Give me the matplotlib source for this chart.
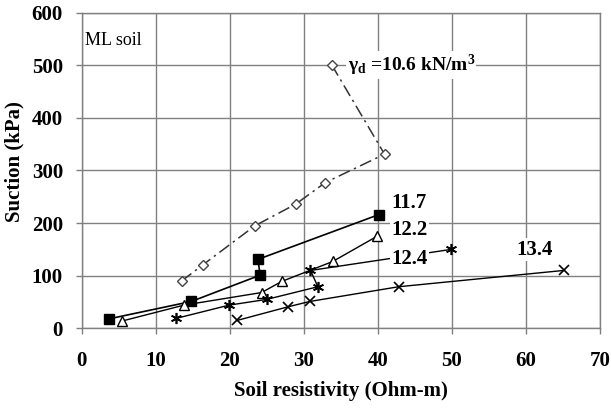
import matplotlib
matplotlib.use("Agg")
import matplotlib.pyplot as plt

plt.rcParams['font.family'] = ['Liberation Serif', 'DejaVu Serif']
plt.rcParams['mathtext.fontset'] = 'custom'
plt.rcParams['mathtext.rm'] = 'Liberation Serif:bold'
plt.rcParams['mathtext.it'] = 'Liberation Serif:bold'
plt.rcParams['mathtext.bf'] = 'Liberation Serif:bold'

# Data (soil resistivity in Ohm-m, suction in kPa)
x_106 = [13.5, 16.4, 23.4, 28.9, 32.9, 40.9, 33.8]
y_106 = [90, 121, 195, 236, 277, 331, 500]

x_117 = [3.7, 14.8, 24.1, 23.8, 40.1]
y_117 = [18, 51, 101, 131, 216]

x_122 = [5.5, 13.8, 24.3, 27.0, 33.9, 39.9]
y_122 = [14, 44, 68, 89, 127, 175]

x_124 = [12.8, 19.9, 25.0, 31.9, 30.9, 49.9]
y_124 = [19, 44, 55, 79, 110, 150]

x_134 = [21.0, 27.9, 30.8, 42.8, 65.1]
y_134 = [15, 41, 51, 79, 110]

x_ticks = [0, 10, 20, 30, 40, 50, 60, 70]
y_ticks = [0, 100, 200, 300, 400, 500, 600]

fig = plt.figure(figsize=(6.11, 4.09), dpi=100)
ax = fig.add_axes([0.1337, 0.1973, 0.982 - 0.1337, 0.969 - 0.1973])

gray = '#808080'
ax.set_xlim(0, 70)
ax.set_ylim(0, 600)
ax.set_xticks(x_ticks)
ax.set_yticks(y_ticks)
ax.grid(True, color=gray, linewidth=1.0)
ax.set_axisbelow(True)
for s in ax.spines.values():
    s.set_color(gray)
    s.set_linewidth(1.0)
ax.tick_params(axis='both', direction='out', color=gray, length=4.5, width=1.0,
               labelsize=15)
ax.tick_params(axis='x', pad=12)
ax.tick_params(axis='y', pad=9)
for lab in ax.get_xticklabels() + ax.get_yticklabels():
    lab.set_fontweight('bold')

ax.plot(x_106, y_106, color='#333333', linestyle=(0, (8, 3, 1.5, 3)), linewidth=1.1,
        marker='D', markersize=5, markerfacecolor='white', markeredgecolor='#444444',
        markeredgewidth=1.0, zorder=3)
ax.plot(x_117, y_117, color='black', linewidth=1.2, marker='s', markersize=6.5,
        markerfacecolor='black', markeredgecolor='black', zorder=3)
ax.plot(x_122, y_122, color='black', linewidth=1.0, marker='^', markersize=6.5,
        markerfacecolor='white', markeredgecolor='black', markeredgewidth=1.0, zorder=3)
ax.plot(x_124, y_124, color='black', linewidth=1.0, marker=(6, 2, 0), markersize=8,
        markeredgecolor='black', markeredgewidth=1.2, zorder=3)
ax.plot(x_134, y_134, color='black', linewidth=1.0, marker='x', markersize=6.5,
        markeredgecolor='black', markeredgewidth=1.2, zorder=3)

bbox = dict(facecolor='white', edgecolor='none', pad=1.0)
ax.text(35.9, 500, 'γ$_\\mathregular{d}$ =10.6 kN/m$^\\mathregular{3}$', fontsize=14,
        fontweight='bold', ha='left', va='center', bbox=bbox, zorder=4)
ax.text(41.8, 238, '11.7', fontsize=15, fontweight='bold', ha='left', va='center',
        bbox=bbox, zorder=4)
ax.text(41.8, 187, '12.2', fontsize=15, fontweight='bold', ha='left', va='center',
        bbox=bbox, zorder=4)
ax.text(41.8, 131, '12.4', fontsize=15, fontweight='bold', ha='left', va='center',
        bbox=bbox, zorder=4)
ax.text(58.7, 149, '13.4', fontsize=15, fontweight='bold', ha='left', va='center',
        bbox=bbox, zorder=4)
ax.text(0.5, 548, 'ML soil', fontsize=13, ha='left', va='center', zorder=4)

fig.text(341 / 611, 1 - 391 / 409, 'Soil resistivity (Ohm-m)', fontsize=15,
         fontweight='bold', ha='center', va='center')
fig.text(14 / 611, 1 - 162 / 409, 'Suction (kPa)', fontsize=15, fontweight='bold',
         ha='center', va='center', rotation=90)

fig.savefig('out.png', dpi=100)
